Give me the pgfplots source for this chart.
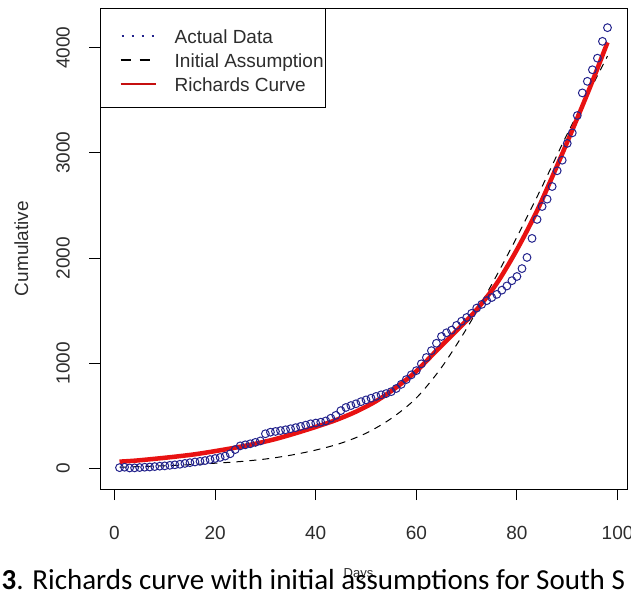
\documentclass[border=0pt]{standalone}
\usepackage{pgfplots}
\pgfplotsset{compat=1.18}
\usepackage{pgfplotstable}
\usepackage{fontspec}
\setmainfont{Liberation Sans}
\newfontfamily\capfont{Carlito}
\definecolor{ptcol}{RGB}{35,35,140}
\definecolor{rcurve}{RGB}{232,18,18}
\definecolor{txt}{RGB}{45,45,45}

\pgfplotstableread{
day value
1 8
2 12
3 5
4 6
5 9
6 12
7 14
8 18
9 22
10 25
11 30
12 35
13 40
14 48
15 55
16 62
17 68
18 75
19 85
20 95
21 105
22 118
23 140
24 180
25 215
26 225
27 235
28 248
29 262
30 330
31 345
32 352
33 360
34 368
35 378
36 388
37 400
38 412
39 425
40 432
41 440
42 452
43 478
44 505
45 550
46 580
47 598
48 615
49 635
50 652
51 668
52 685
53 700
54 712
55 730
56 760
57 800
58 845
59 890
60 930
61 995
62 1055
63 1120
64 1190
65 1255
66 1290
67 1315
68 1360
69 1400
70 1435
71 1475
72 1525
73 1560
74 1595
75 1625
76 1655
77 1695
78 1735
79 1785
80 1825
81 1900
82 2006
83 2187
84 2367
85 2490
86 2560
87 2680
88 2830
89 2930
90 3090
91 3190
92 3355
93 3570
94 3680
95 3790
96 3900
97 4060
98 4190
}\actual

\pgfplotstableread{
day value
1 12
5 18
10 26
15 36
20 50
25 66
30 90
35 126
40 175
45 240
50 335
55 475
60 670
65 960
70 1330
75 1750
80 2200
85 2680
90 3180
95 3640
98 3920
}\initial

\pgfplotstableread{
day value
1 65
4 74
8 92
12 112
16 135
20 165
24 198
28 235
32 280
36 335
40 395
44 460
48 540
52 640
56 770
60 925
64 1120
68 1310
72 1510
76 1760
80 2080
84 2450
88 2880
92 3330
95 3680
98 4050
}\richards

\begin{document}
\begin{tikzpicture}[x=1pt,y=1pt]
\begin{axis}[
  at={(100pt,100pt)}, anchor=south west,
  scale only axis, width=527pt, height=481pt,
  xmin=-2.88, xmax=101.88, ymin=-195, ymax=4377,
  xtick={0,20,40,60,80,100}, ytick={0,1000,2000,3000,4000},
  tick align=outside, xtick pos=bottom, ytick pos=left,
  major tick length=11pt,
  tick style={black, line width=0.9pt},
  axis line style={black, line width=0.9pt},
  /pgf/number format/assume math mode=true,
  /pgf/number format/1000 sep={},
  tick label style={font=\fontsize{19}{23}\selectfont, text=txt},
  xticklabel style={anchor=north, inner sep=0pt},
  yticklabel style={rotate=90, anchor=south, inner sep=0pt},
  xticklabel shift=26pt,
  yticklabel shift=19pt,
  xlabel={Days}, ylabel={Cumulative},
  every axis x label/.style={at={(rel axis cs:0.5,0)}, anchor=base, inner sep=0pt, yshift=-88pt, xshift=-5pt, font=\fontsize{13}{15}\selectfont, text=txt},
  every axis y label/.style={at={(rel axis cs:0,0.5)}, rotate=90, anchor=south, inner sep=0pt, yshift=71.4pt, font=\fontsize{19}{23}\selectfont, text=txt},
  legend cell align=left,
  legend style={at={(0,1)}, anchor=north west, draw=black, line width=0.9pt, fill=white,
    inner xsep=2pt, inner ysep=13.5pt, row sep=0pt, column sep=18pt,
    font=\fontsize{19}{23}\selectfont,
    nodes={inner sep=0pt, text height=21.8pt, text depth=2.2pt, text=txt}},
]
\addplot[only marks, mark=o, mark size=3.9pt, mark options={draw=ptcol, line width=1pt},
  legend image code/.code={\path (0pt,0pt); \draw[ptcol, line width=2pt, dash pattern=on 2.5pt off 7.5pt] (17pt,-2.2pt) -- (51pt,-2.2pt);}]
  table[x=day, y=value] {\actual};
\addlegendentry{Actual Data}
\addplot[black, line width=1pt, dash pattern=on 7pt off 6pt, smooth,
  legend image code/.code={\path (0pt,0pt); \draw[black, line width=2pt, dash pattern=on 10pt off 9pt] (16pt,-2.2pt) -- (51pt,-2.2pt);}]
  table[x=day, y=value] {\initial};
\addlegendentry{Initial Assumption}
\addplot[rcurve, line width=4.5pt, smooth,
  legend image code/.code={\path (0pt,0pt); \draw[rcurve!85!black, line width=2pt] (16pt,-2.2pt) -- (51pt,-2.2pt);}]
  table[x=day, y=value] {\richards};
\addlegendentry{Richards Curve}
\end{axis}
\node[anchor=base west, inner sep=0pt, font=\capfont\fontsize{29}{33}\selectfont, text=black] at (1.5,0) {\textbf{3}. Richards curve with initial assumptions for South S};
\pgfresetboundingbox
\path[use as bounding box] (0,0) rectangle (631,589);
\end{tikzpicture}
\end{document}
